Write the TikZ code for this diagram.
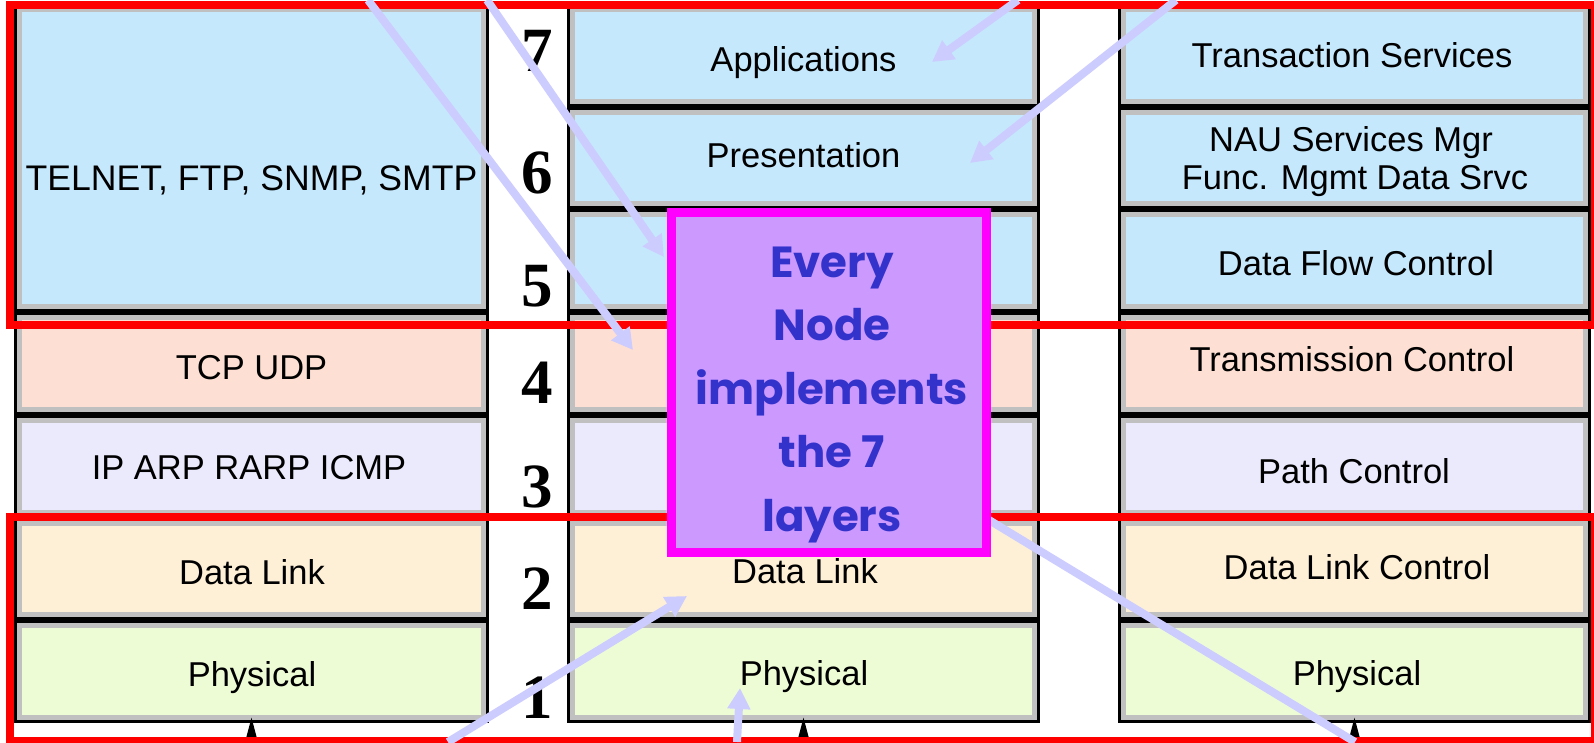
\documentclass[tikz,border=0pt]{standalone}
\usepackage{fontspec}
\setmainfont{Liberation Sans}
\newfontfamily\numfont{Liberation Serif}
\newfontfamily\handfont{Poppins}
\usetikzlibrary{arrows.meta,calc}

\definecolor{topblue}{RGB}{197,232,252}
\definecolor{tcpcol}{RGB}{253,224,211}
\definecolor{netcol}{RGB}{234,234,252}
\definecolor{dlcol}{RGB}{254,240,214}
\definecolor{phycol}{RGB}{238,252,214}
\definecolor{boxgrey}{RGB}{192,192,192}
\definecolor{lav}{RGB}{204,204,255}
\definecolor{purplefill}{RGB}{204,153,255}
\definecolor{magentaedge}{RGB}{255,0,255}
\definecolor{noteblue}{RGB}{51,51,204}

\begin{document}
\begin{tikzpicture}[x=1pt,y=-1pt,
  layerbox/.style={fill=#1, draw=boxgrey, line width=5pt,
    preaction={draw=black, line width=11pt},
    inner sep=0pt, outer sep=0pt},
  colL/.style={minimum width=464pt},
  colM/.style={minimum width=462pt},
  colR/.style={minimum width=462pt},
  rowh/.style={minimum height=91.7pt},
  lbl/.style={font=\fontsize{34.5}{38}\selectfont, anchor=base, inner sep=0pt, align=center},
  num/.style={font=\numfont\bfseries\fontsize{63}{63}\selectfont, anchor=base, inner sep=0pt},
  redframe/.style={draw=red, line width=7.5pt},
  lavarrow/.style={draw=lav, line width=8pt, -{Triangle[length=21pt,width=22pt]}},
  lavline/.style={draw=lav, line width=8pt},
  tick/.style={draw=black, line width=2pt, -{Triangle[length=22pt,width=11pt]}},
  notebox/.style={fill=purplefill, draw=magentaedge, line width=9pt,
    minimum width=315pt, minimum height=340pt, inner sep=0pt},
  notetext/.style={font=\handfont\bfseries\fontsize{43.5}{63.5}\selectfont,
    text=noteblue, align=center, inner sep=0pt}]

\useasboundingbox (0,0) rectangle (1594,742);
\clip (0,0) rectangle (1594,742);

% ---- TCP/IP stack (left) ----
\node[layerbox=topblue, colL, minimum height=297.1pt] (lApp) at (251.5,158.05) {};
\node[layerbox=tcpcol, colL, rowh] (l4) at (251.5,363.5) {};
\node[layerbox=netcol, colL, rowh] (l3) at (251.5,466.25) {};
\node[layerbox=dlcol,  colL, rowh] (l2) at (251.5,568.95) {};
\node[layerbox=phycol, colL, rowh] (l1) at (251.5,671.65) {};

% ---- OSI stack (middle) ----
\node[layerbox=topblue, colM, rowh] (m7) at (803.5,55.35) {};
\node[layerbox=topblue, colM, rowh] (m6) at (803.5,158.05) {};
\node[layerbox=topblue, colM, rowh] (m5) at (803.5,260.75) {};
\node[layerbox=tcpcol,  colM, rowh] (m4) at (803.5,363.5) {};
\node[layerbox=netcol,  colM, rowh] (m3) at (803.5,466.25) {};
\node[layerbox=dlcol,   colM, rowh] (m2) at (803.5,568.95) {};
\node[layerbox=phycol,  colM, rowh] (m1) at (803.5,671.65) {};

% ---- SNA stack (right) ----
\node[layerbox=topblue, colR, rowh] (r7) at (1354.5,55.35) {};
\node[layerbox=topblue, colR, rowh] (r6) at (1354.5,158.05) {};
\node[layerbox=topblue, colR, rowh] (r5) at (1354.5,260.75) {};
\node[layerbox=tcpcol,  colR, rowh] (r4) at (1354.5,363.5) {};
\node[layerbox=netcol,  colR, rowh] (r3) at (1354.5,466.25) {};
\node[layerbox=dlcol,   colR, rowh] (r2) at (1354.5,568.95) {};
\node[layerbox=phycol,  colR, rowh] (r1) at (1354.5,671.65) {};

% ---- layer labels ----
\node[lbl, font=\fontsize{35.6}{40}\selectfont] (tTelnet) at (251.5,190) {TELNET, FTP, SNMP, SMTP};
\node[lbl] (tTcp)    at (251.5,379) {TCP UDP};
\node[lbl] (tIp)     at (249,479)   {IP ARP RARP ICMP};
\node[lbl] (tDlL)    at (252,584)   {Data Link};
\node[lbl] (tPhyL)   at (252,686)   {Physical};

\node[lbl] (tApp)    at (803.5,71)  {Applications};
\node[lbl] (tPres)   at (803.5,167) {Presentation};
\node[lbl] (tDlM)    at (805,583)   {Data Link};
\node[lbl] (tPhyM)   at (804,685)   {Physical};

\node[lbl] (tTrans)  at (1352,67)   {Transaction Services};
\node[lbl] (tNau)    at (1351,151)  {NAU Services Mgr};
\node[lbl] (tFunc)   at (1355,189)  {Func. Mgmt Data Srvc};
\node[lbl] (tDfc)    at (1356,275)  {Data Flow Control};
\node[lbl] (tTc)     at (1352,371)  {Transmission Control};
\node[lbl] (tPc)     at (1354,483)  {Path Control};
\node[lbl] (tDlc)    at (1357,579)  {Data Link Control};
\node[lbl] (tPhyR)   at (1357,685)  {Physical};

% ---- layer numbers ----
\node[num] (n7) at (537,71.5)  {7};
\node[num] (n6) at (537,193)   {6};
\node[num] (n5) at (537,306)   {5};
\node[num] (n4) at (537,403)   {4};
\node[num] (n3) at (537,507.5) {3};
\node[num] (n2) at (537,609.5) {2};
\node[num] (n1) at (537,718.5) {1};

% ---- links arriving from below ----
\coordinate (bL) at (251.5,745);
\coordinate (bM) at (803.5,745);
\coordinate (bR) at (1354.5,745);
\draw[tick] (bL) -- (l1.south);
\draw[tick] (bM) -- (m1.south);
\draw[tick] (bR) -- (r1.south);

% ---- grouping frames ----
\draw[redframe] (10,5) rectangle (1595,325);
\draw[redframe] (10,517) rectangle (1595,741);

% ---- pointers into the middle stack ----
\coordinate (srcA) at (368,0);
\coordinate (srcB) at (487,0);
\coordinate (srcC) at (1018,0);
\coordinate (srcD) at (1176,0);
\coordinate (srcE) at (448,742);
\coordinate (srcF) at (737,742);
\coordinate (tipA) at ($(m4.center)+(-170.5,-13.5)$);
\coordinate (tipB) at ($(m5.center)+(-139.5,-3.75)$);
\coordinate (tipC) at ($(m7.center)+(128.5,6.65)$);
\coordinate (tipD) at ($(m6.center)+(166.5,4.95)$);
\coordinate (tipE) at ($(m2.center)+(-116.5,27.05)$);
\coordinate (tipF) at ($(m1.center)+(-63.5,16.35)$);
\draw[lavarrow] (srcA) -- (tipA);
\draw[lavarrow] (srcB) -- (tipB);
\draw[lavarrow] (srcC) -- (tipC);
\draw[lavarrow] (srcD) -- (tipD);
\draw[lavarrow] (srcE) -- (tipE);
\draw[lavarrow] (srcF) -- (tipF);
\coordinate (gStart) at (829,423);
\coordinate (gEnd) at (1355,742);
\draw[lavline] (gStart) -- (gEnd);

% ---- callout ----
\node[notebox] (evn) at (829,382.5) {};
\node[notetext] (evtxt) at ($(evn.center)+(3,12)$) {Every\\Node\\implements\\the 7\\layers};

\end{tikzpicture}
\end{document}
